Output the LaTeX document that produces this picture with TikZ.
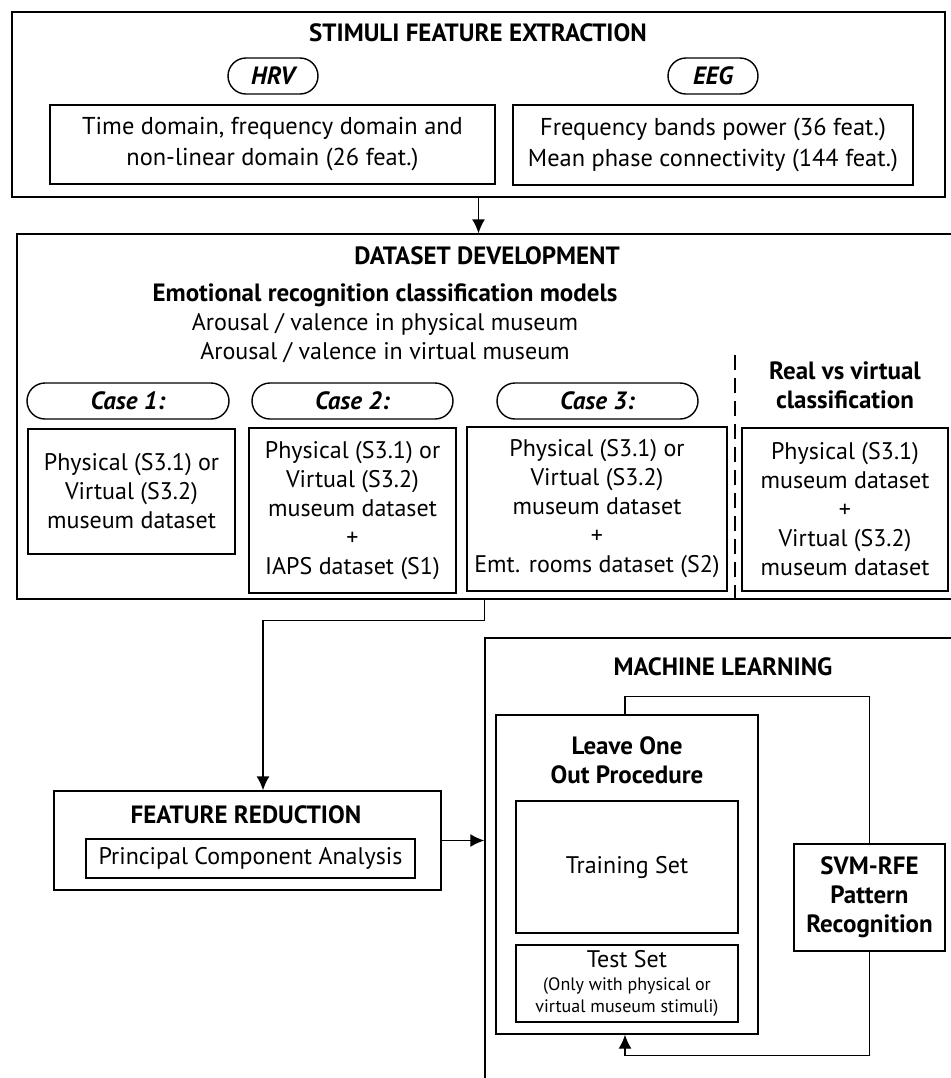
\documentclass[tikz,border=0pt]{standalone}
\usepackage{fontspec}
\setmainfont{PT Sans}
\usetikzlibrary{arrows.meta}
\tikzset{%
	>={Latex[length=7pt,width=6.5pt]},
	box/.style={draw,line width=0.7pt,inner sep=0pt,align=center,
		font=\fontsize{12}{14.5}\selectfont},
	pill/.style={box,rounded corners=9pt,minimum height=18pt,
		font=\fontsize{12.5}{14.5}\selectfont\bfseries\itshape},
	heading/.style={inner sep=0pt,align=center,
		font=\fontsize{12.5}{14.5}\selectfont\bfseries},
	plain/.style={inner sep=0pt,align=center,
		font=\fontsize{12}{14.5}\selectfont},
	link/.style={line width=0.7pt}
}

\begin{document}
\begin{tikzpicture}[x=0.5pt,y=-0.5pt]
	%% page size in pixels of the figure
	\useasboundingbox (0,0) rectangle (951,1078);
	\clip (0,0) rectangle (951,1078);
	
	%% stimuli feature extraction
	\node[box,minimum width=466.5pt,minimum height=92.5pt] (extract) at (478.5,104.5) {};
	\node[heading] (extracttitle) at (478,33) {STIMULI FEATURE EXTRACTION};
	\node[pill,minimum width=45pt] (hrv) at (273,76) {HRV};
	\node[pill,minimum width=45pt] (eeg) at (713,76) {EEG};
	\node[box,minimum width=222.5pt,minimum height=39.5pt,
		font=\fontsize{12.2}{15.5}\selectfont] (hrvbox) at (272.5,144.5)
		{Time domain, frequency domain and\\non-linear domain (26 feat.)};
	\node[box,minimum width=200pt,minimum height=40pt,
		font=\fontsize{12.2}{15.5}\selectfont] (eegbox) at (713,145)
		{Frequency bands power (36 feat.)\\Mean phase connectivity (144 feat.)};
	
	%% dataset development
	\node[box,minimum width=474pt,minimum height=182.5pt] (dataset) at (491,416.5) {};
	\node[heading] (datasettitle) at (487,256) {DATASET DEVELOPMENT};
	\node[plain] (models) at (385,323.5)
		{\fontsize{12.5}{14.5}\selectfont\bfseries Emotional recognition classification models\\
		Arousal / valence in physical museum\\
		Arousal / valence in virtual museum};
	\node[heading] (realvirtual) at (845,385) {Real vs virtual\\classification};
	
	\node[pill,minimum width=101pt] (case1) at (128,401) {Case 1:};
	\node[pill,minimum width=100.5pt] (case2) at (352.5,401) {Case 2:};
	\node[pill,minimum width=100.5pt] (case3) at (597.5,401) {Case 3:};
	
	\node[box,minimum width=103.5pt,minimum height=62.5pt] (set1) at (131.5,491.5)
		{Physical (S3.1) or\\Virtual (S3.2)\\museum dataset};
	\node[box,minimum width=103.5pt,minimum height=82.5pt] (set2) at (352.5,510.5)
		{Physical (S3.1) or\\Virtual (S3.2)\\museum dataset\\+\\IAPS dataset (S1)};
	\node[box,minimum width=130pt,minimum height=82pt] (set3) at (597,509)
		{Physical (S3.1) or\\Virtual (S3.2)\\museum dataset\\+\\Emt. rooms dataset (S2)};
	\node[box,minimum width=103pt,minimum height=81.5pt] (set4) at (845,509.5)
		{Physical (S3.1)\\museum dataset\\+\\Virtual (S3.2)\\museum dataset};
	
	\coordinate (sepTop) at (735,355);
	\draw[link,dash pattern=on 7.5pt off 4pt] (sepTop) -- (sepTop |- dataset.south);
	
	%% feature reduction
	\node[box,minimum width=193.5pt,minimum height=49.5pt] (fr) at (247.5,840.5) {};
	\node[heading] (frtitle) at (246,815) {FEATURE REDUCTION};
	\node[box,minimum width=164.5pt,minimum height=19.5pt] (pca) at (250.5,858.5)
		{Principal Component Analysis};
	
	%% machine learning
	\node[box,minimum width=240pt,minimum height=226pt] (ml) at (725,864) {};
	\node[heading] (mltitle) at (723,667) {MACHINE LEARNING};
	\node[box,minimum width=131pt,minimum height=159.5pt] (loo) at (627,874.5) {};
	\node[heading] (lootitle) at (627,760.5) {Leave One\\Out Procedure};
	\node[box,minimum width=111pt,minimum height=66pt] (train) at (627,867) {Training Set};
	\node[box,minimum width=111pt,minimum height=38.5pt,
		font=\fontsize{12}{11}\selectfont] (test) at (627,983.5)
		{Test Set\\[0.5pt]\fontsize{9}{11}\selectfont (Only with physical or\\
		\fontsize{9}{11}\selectfont virtual museum stimuli)};
	\node[box,minimum width=75.5pt,minimum height=53.5pt,
		font=\fontsize{12.5}{14.5}\selectfont\bfseries] (svm) at (869.5,897.5)
		{SVM-RFE\\Pattern\\Recognition};
	
	%% connectors
	\draw[link,->] (extract.south) -- (extract.south |- dataset.north);
	\draw[link,->] (ml.west |- dataset.south) -- ++(0,21) -| ([xshift=7.75pt]fr.north);
	\draw[link,->] (fr.east) -- (fr.east -| ml.west);
	\draw[link] (svm.north) -- ++(0,-147) -| ([xshift=-1pt]loo.north);
	\draw[link,->] (svm.south) -- ++(0,104) -| ([xshift=-1pt]loo.south);
\end{tikzpicture}
\end{document}
